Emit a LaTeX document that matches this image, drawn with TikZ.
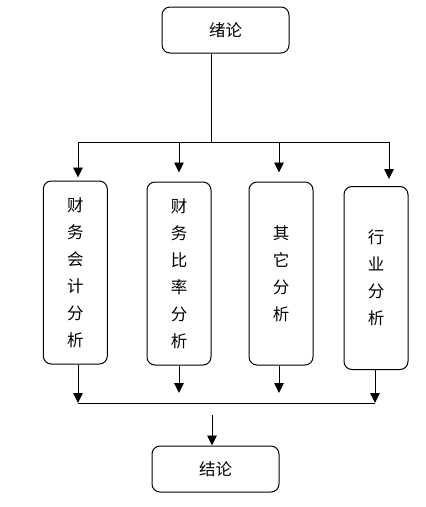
\documentclass[tikz,border=0pt]{standalone}
\usepackage{fontspec}
\newfontfamily\cjk{Noto Sans CJK SC}
\usetikzlibrary{arrows.meta}
\tikzset{
  box/.style={draw, rounded corners=8pt, line width=1pt, inner sep=0pt, font=\cjk\fontsize{16.5}{27}\selectfont, align=center},
  hbox/.style={box, minimum width=127pt, minimum height=46pt},
  vbox/.style={box, minimum width=64pt, minimum height=183pt},
  conn/.style={line width=0.9pt},
  arr/.style={conn, -{Triangle[length=10pt,width=9.5pt]}}
}
\begin{document}
\begin{tikzpicture}[x=1pt,y=-1pt]
\useasboundingbox (0,0) rectangle (426,507);
\node[hbox] (top) at (225.5,30) {绪论};
\node[vbox] (b1) at (75.3,272.5) {财\\务\\会\\计\\分\\析};
\node[vbox] (b2) at (179,273.5) {财\\务\\比\\率\\分\\析};
\node[vbox] (b3) at (281,273.5) {其\\它\\分\\析};
\node[vbox] (b4) at (376,278) {行\\业\\分\\析};
\node[hbox] (bot) at (215.5,469) {结论};
\coordinate (j) at (211,142);
\coordinate (hl) at (78,142);
\coordinate (hr) at (389,142);
\coordinate (h2) at (179,142);
\coordinate (h3) at (279,142);
\coordinate (bl) at (78,403);
\coordinate (br) at (375,403);
\coordinate (m) at (212,415);
\draw[conn] (top.south -| j) -- (j);
\draw[conn] (hl) -- (hr);
\draw[arr] (hl) -- ([yshift=3pt]hl |- b1.north);
\draw[arr] (h2) -- ([yshift=9pt]h2 |- b2.north);
\draw[arr] (h3) -- ([yshift=9pt]h3 |- b3.north);
\draw[arr] (hr) -- ([yshift=7pt]hr |- b4.north);
\draw[arr] (bl |- b1.south) -- (bl);
\draw[arr] (b2.south -| h2) -- ([yshift=10pt]h2 |- bl);
\draw[arr] (b3.south -| h3) -- ([yshift=10pt]h3 |- bl);
\draw[arr] (br |- b4.south) -- (br);
\draw[conn] (bl) -- (br);
\draw[arr] (m) -- (m |- bot.north);
\end{tikzpicture}
\end{document}
